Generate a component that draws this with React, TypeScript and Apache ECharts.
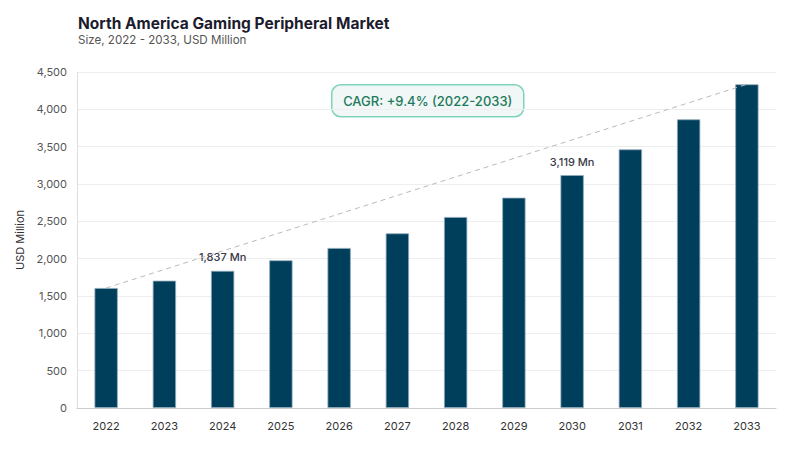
import React, { useEffect, useRef } from "react";
import * as echarts from "echarts";

const years = ["2022", "2023", "2024", "2025", "2026", "2027", "2028", "2029", "2030", "2031", "2032", "2033"];
const values = [1607, 1705, 1837, 1978, 2143, 2339, 2558, 2817, 3119, 3464, 3866, 4335];
const labeledYears = ["2024", "2030"];
const titleText = "North America Gaming Peripheral Market";
const subtitleText = "Size, 2022 - 2033, USD Million";
const cagrText = "CAGR: +9.4% (2022-2033)";

const FONT = "Inter, 'Noto Sans', sans-serif";

export default function App() {
  const ref = useRef<HTMLDivElement>(null);
  useEffect(() => {
    if (!ref.current) return;
    const chart = echarts.init(ref.current, null, { renderer: "svg" });
    const fmt = (v: number) => v.toLocaleString("en-US");
    chart.setOption({
      animation: false,
      textStyle: { fontFamily: FONT },
      title: {
        text: titleText,
        subtext: subtitleText,
        left: 73,
        top: 10,
        itemGap: 3,
        textStyle: { fontSize: 15.5, fontWeight: 700, color: "#1c1c2e", fontFamily: FONT },
        subtextStyle: { fontSize: 11.6, color: "#555", fontFamily: FONT },
      },
      grid: { left: 77, right: 24, top: 72, bottom: 42 },
      xAxis: {
        type: "category",
        data: years,
        axisLine: { lineStyle: { color: "#ccc" } },
        axisTick: { show: false },
        axisLabel: { color: "#333", fontSize: 11, margin: 12, fontFamily: FONT },
      },
      yAxis: {
        type: "value",
        min: 0,
        max: 4500,
        interval: 500,
        name: "USD Million",
        nameLocation: "middle",
        nameGap: 52,
        nameTextStyle: { color: "#333", fontSize: 11, fontFamily: FONT },
        axisLine: { show: true, lineStyle: { color: "#ddd" } },
        axisLabel: { color: "#555", fontSize: 11, margin: 10, formatter: (v: number) => fmt(v), fontFamily: FONT },
        splitLine: { lineStyle: { color: "#eee" } },
      },
      series: [
        {
          type: "bar",
          data: values.map((v, i) => ({
            value: v,
            label: {
              show: labeledYears.includes(years[i]),
              position: "top",
              distance: 8,
              formatter: (p: any) => fmt(p.value) + " Mn",
              color: "#3a3a48",
              fontSize: 11,
              fontWeight: 500,
              fontFamily: FONT,
            },
          })),
          barWidth: "40%",
          itemStyle: { color: "#003f5c", borderColor: "#8fa9ba", borderWidth: 0.8 },
          markLine: {
            silent: true,
            symbol: ["none", "none"],
            label: { show: false },
            lineStyle: { type: [5, 4], color: "#bbb", width: 1 },
            data: [
              [
                { coord: [years[0], values[0]] },
                { coord: [years[years.length - 1], values[values.length - 1]] },
              ],
            ],
          },
        },
      ],
      graphic: [
        {
          type: "group",
          left: 331,
          top: 84,
          children: [
            {
              type: "rect",
              shape: { x: 0, y: 0, width: 192, height: 32, r: 9 },
              style: { fill: "#f1f6f6", stroke: "#7fd3bb", lineWidth: 1.5 },
            },
            {
              type: "text",
              x: 96,
              y: 16,
              style: {
                text: cagrText,
                fill: "#1d7a5c",
                fontSize: 13,
                fontWeight: 500,
                fontFamily: FONT,
                align: "center",
                verticalAlign: "middle",
              },
            },
          ],
        },
      ],
    });
    return () => chart.dispose();
  }, []);
  return <div ref={ref} style={{ width: 800, height: 450, position: "absolute", left: 0, top: 0, background: "#fff" }} />;
}
